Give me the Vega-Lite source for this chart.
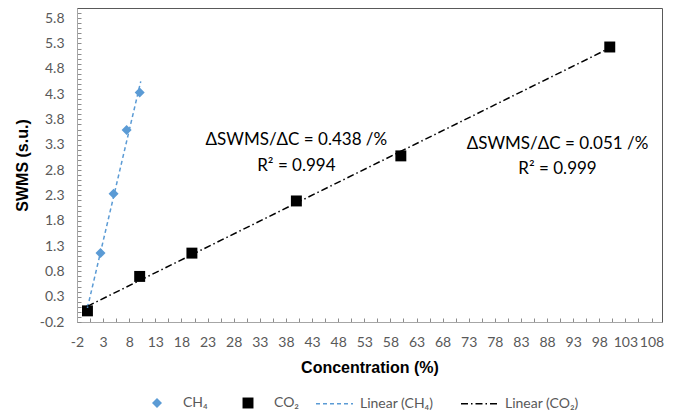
{
  "$schema": "https://vega.github.io/schema/vega-lite/v6.json",
  "width": 585,
  "height": 314,
  "autosize": {"type": "none"},
  "padding": {"left": 77, "top": 8, "right": 18, "bottom": 94},
  "background": "white",
  "config": {
    "view": {"stroke": "#595959", "strokeWidth": 1},
    "axis": {
      "grid": false,
      "domainColor": "#a6a6a6",
      "tickColor": "#8c8c8c",
      "tickWidth": 1,
      "labelFont": "Lato",
      "labelFontSize": 14,
      "labelColor": "#595959",
      "titleFont": "Liberation Sans",
      "titleFontSize": 16,
      "titleFontWeight": "bold",
      "titleColor": "#000000",
      "labelOverlap": false,
      "labelFlush": false,
      "labelBound": false
    },
    "legend": {
      "labelFont": "Lato",
      "labelFontSize": 14,
      "labelColor": "#595959",
      "padding": 0
    }
  },
  "datasets": {
    "pts": [
      {"series": "CH₄", "conc": 0, "s": 0.05},
      {"series": "CH₄", "conc": 2.5, "s": 1.16},
      {"series": "CH₄", "conc": 5, "s": 2.33},
      {"series": "CH₄", "conc": 7.5, "s": 3.59},
      {"series": "CH₄", "conc": 10, "s": 4.33},
      {"series": "CO₂", "conc": 0, "s": 0.02},
      {"series": "CO₂", "conc": 10, "s": 0.70},
      {"series": "CO₂", "conc": 20, "s": 1.16},
      {"series": "CO₂", "conc": 40, "s": 2.19},
      {"series": "CO₂", "conc": 60, "s": 3.08},
      {"series": "CO₂", "conc": 100, "s": 5.23}
    ],
    "fits": [
      {"fit": "Linear (CH₄)", "conc": 0, "s": 0.08},
      {"fit": "Linear (CH₄)", "conc": 10.2, "s": 4.55},
      {"fit": "Linear (CO₂)", "conc": 0, "s": 0.11},
      {"fit": "Linear (CO₂)", "conc": 100, "s": 5.21}
    ],
    "notes": [
      {"conc": 40, "s": 3.4, "label": "ΔSWMS/ΔC = 0.438 /%"},
      {"conc": 40, "s": 2.88, "label": "R² = 0.994"},
      {"conc": 90, "s": 3.32, "label": "ΔSWMS/ΔC = 0.051 /%"},
      {"conc": 90, "s": 2.83, "label": "R² = 0.999"}
    ]
  },
  "encoding": {
    "x": {
      "field": "conc", "type": "quantitative",
      "scale": {"domain": [-2, 110], "nice": false, "zero": false},
      "axis": {
        "title": "Concentration (%)",
        "values": [-2, 0.5, 3, 5.5, 8, 10.5, 13, 15.5, 18, 20.5, 23, 25.5, 28, 30.5, 33, 35.5, 38, 40.5, 43, 45.5, 48, 50.5, 53, 55.5, 58, 60.5, 63, 65.5, 68, 70.5, 73, 75.5, 78, 80.5, 83, 85.5, 88, 90.5, 93, 95.5, 98, 100.5, 103, 105.5, 108],
        "labelExpr": "abs((datum.value+2)/5 - round((datum.value+2)/5)) < 0.01 ? '' + datum.value : ''",
        "labelOverlap": false,
        "labelFlush": false,
        "ticks": true,
        "tickSize": -4,
        "labelPadding": 17,
        "titlePadding": 10
      }
    },
    "y": {
      "field": "s", "type": "quantitative",
      "scale": {"domain": [-0.2, 6.0], "nice": false, "zero": false},
      "axis": {
        "title": "SWMS (s.u.)",
        "values": [-0.2, -0.1, 0, 0.1, 0.2, 0.3, 0.4, 0.5, 0.6, 0.7, 0.8, 0.9, 1, 1.1, 1.2, 1.3, 1.4, 1.5, 1.6, 1.7, 1.8, 1.9, 2, 2.1, 2.2, 2.3, 2.4, 2.5, 2.6, 2.7, 2.8, 2.9, 3, 3.1, 3.2, 3.3, 3.4, 3.5, 3.6, 3.7, 3.8, 3.9, 4, 4.1, 4.2, 4.3, 4.4, 4.5, 4.6, 4.7, 4.8, 4.9, 5, 5.1, 5.2, 5.3, 5.4, 5.5, 5.6, 5.7, 5.8, 5.9],
        "labelExpr": "abs((datum.value+0.2)/0.5 - round((datum.value+0.2)/0.5)) < 0.01 ? (datum.value < 0 ? '-' + format(-datum.value, '.1f') : format(datum.value, '.1f')) : ''",
        "labelOverlap": false,
        "labelFlush": false,
        "ticks": true,
        "tickSize": -4,
        "labelPadding": 17,
        "titlePadding": 9
      }
    }
  },
  "layer": [
    {
      "data": {"name": "pts"},
      "mark": {"type": "point", "filled": true, "opacity": 1},
      "encoding": {
        "color": {
          "field": "series", "type": "nominal",
          "scale": {"domain": ["CH₄", "CO₂"], "range": ["#5b9bd5", "#000000"]},
          "legend": {
            "title": null, "orient": "none", "direction": "horizontal",
            "legendX": 73, "legendY": 388,
            "symbolSize": 70, "labelOffset": 19, "columnPadding": 33
          }
        },
        "shape": {
          "field": "series", "type": "nominal",
          "scale": {"domain": ["CH₄", "CO₂"], "range": ["diamond", "square"]},
          "legend": {
            "title": null, "orient": "none", "direction": "horizontal",
            "legendX": 73, "legendY": 388,
            "symbolSize": 70, "labelOffset": 19, "columnPadding": 33
          }
        },
        "size": {
          "field": "series", "type": "nominal",
          "scale": {"domain": ["CH₄", "CO₂"], "range": [100, 120]},
          "legend": null
        }
      }
    },
    {
      "data": {"name": "fits"},
      "mark": {"type": "line", "strokeWidth": 1.5},
      "encoding": {
        "stroke": {
          "field": "fit", "type": "nominal",
          "scale": {"domain": ["Linear (CH₄)", "Linear (CO₂)"], "range": ["#5b9bd5", "#000000"]},
          "legend": {
            "title": null, "orient": "none", "direction": "horizontal",
            "legendX": 238, "legendY": 376,
            "symbolSize": 1369, "symbolStrokeWidth": 1.5, "labelOffset": 6, "columnPadding": 24
          }
        },
        "strokeDash": {
          "field": "fit", "type": "nominal",
          "scale": {"domain": ["Linear (CH₄)", "Linear (CO₂)"], "range": [[4, 3], [7, 3, 1.5, 3]]},
          "legend": {
            "title": null, "orient": "none", "direction": "horizontal",
            "legendX": 238, "legendY": 376,
            "symbolSize": 1369, "symbolStrokeWidth": 1.5, "labelOffset": 6, "columnPadding": 24
          }
        }
      }
    },
    {
      "data": {"name": "notes"},
      "mark": {"type": "text", "font": "Lato", "fontSize": 17, "color": "#000000", "align": "center", "baseline": "middle"},
      "encoding": {
        "text": {"field": "label"}
      }
    }
  ]
}
